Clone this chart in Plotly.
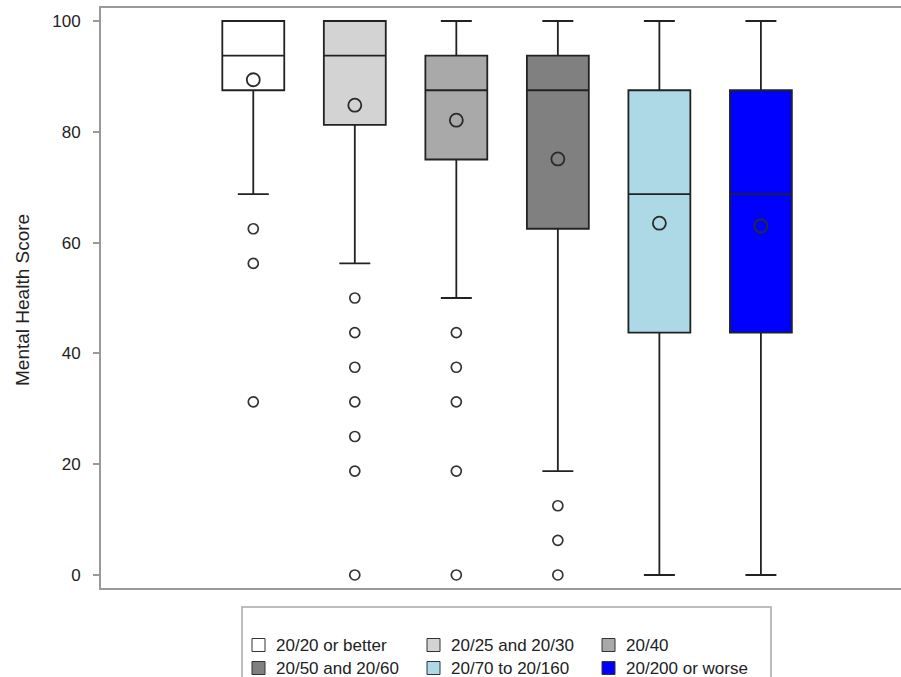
import plotly.graph_objects as go

categories = ["20/20 or better", "20/25 and 20/30", "20/40",
              "20/50 and 20/60", "20/70 to 20/160", "20/200 or worse"]
positions = [1, 2, 3, 4, 5, 6]
q1 = [87.5, 81.25, 75.0, 62.5, 43.75, 43.75]
median = [93.75, 93.75, 87.5, 87.5, 68.75, 68.75]
q3 = [100.0, 100.0, 93.75, 93.75, 87.5, 87.5]
lower_whisker = [68.75, 56.25, 50.0, 18.75, 0.0, 0.0]
upper_whisker = [100.0, 100.0, 100.0, 100.0, 100.0, 100.0]
means = [89.4, 84.8, 82.1, 75.1, 63.5, 63.0]
outliers = [
    [62.5, 56.25, 31.25],
    [50.0, 43.75, 37.5, 31.25, 25.0, 18.75, 0.0],
    [43.75, 37.5, 31.25, 18.75, 0.0],
    [12.5, 6.25, 0.0],
    [],
    [],
]
fill_colors = ["#ffffff", "#d3d3d3", "#a9a9a9", "#808080", "#add8e6", "#0000ff"]
y_ticks = [0, 20, 40, 60, 80, 100]

W, H = 901, 677
ML, MR, MT, MB = 101, 0, 8, 89
PW, PH = W - ML - MR, H - MT - MB

FONT = "Liberation Sans, Arial, sans-serif"
TXT = "#222222"
AX = "#9a9a9a"

fig = go.Figure()
for i, cat in enumerate(categories):
    fig.add_trace(go.Box(
        x=[positions[i]], q1=[q1[i]], median=[median[i]], q3=[q3[i]],
        lowerfence=[lower_whisker[i]], upperfence=[upper_whisker[i]],
        name=cat, width=0.61, whiskerwidth=0.5, boxpoints=False,
        fillcolor=fill_colors[i], line=dict(color="#222222", width=1.8),
        showlegend=False,
    ))

# means
fig.add_trace(go.Scatter(
    x=positions, y=means, mode="markers", showlegend=False,
    marker=dict(symbol="circle-open", size=13, color="#2a2a2a", line=dict(width=1.8)),
))
# outliers
ox, oy = [], []
for i, vals in enumerate(outliers):
    for v in vals:
        ox.append(positions[i])
        oy.append(v)
fig.add_trace(go.Scatter(
    x=ox, y=oy, mode="markers", showlegend=False,
    marker=dict(symbol="circle-open", size=10, color="#333333", line=dict(width=1.7)),
))

def px_x(p):  # screen pixel -> paper
    return (p - ML) / PW

def px_y(p):
    return (MT + PH - p) / PH

shapes = []
annotations = []
# legend border
shapes.append(dict(type="rect", xref="paper", yref="paper",
                   x0=px_x(242), x1=px_x(771), y0=px_y(700), y1=px_y(607),
                   line=dict(color="#a8a8a8", width=1.5), fillcolor="rgba(0,0,0,0)"))
col_sq = [252, 427, 602]
col_tx = [274, 449, 624]
row_y = [645, 668]
for i, cat in enumerate(categories):
    r, c = divmod(i, 3)
    cy = row_y[r]
    shapes.append(dict(type="rect", xref="paper", yref="paper",
                       x0=px_x(col_sq[c]), x1=px_x(col_sq[c] + 13),
                       y0=px_y(cy + 6.5), y1=px_y(cy - 6.5),
                       line=dict(color="#333333", width=1), fillcolor=fill_colors[i]))
    annotations.append(dict(xref="paper", yref="paper", x=px_x(col_tx[c]), y=px_y(cy),
                            text=cat, showarrow=False, xanchor="left", yanchor="middle",
                            font=dict(family=FONT, size=17, color=TXT)))

# y-axis title
annotations.append(dict(xref="paper", yref="paper", x=px_x(22), y=px_y(300),
                        text="Mental Health Score", showarrow=False, textangle=-90,
                        xanchor="center", yanchor="middle",
                        font=dict(family=FONT, size=19, color=TXT)))

fig.update_layout(
    width=W, height=H,
    margin=dict(l=ML, r=MR, t=MT, b=MB, pad=0),
    paper_bgcolor="white", plot_bgcolor="white",
    shapes=shapes, annotations=annotations,
    showlegend=False,
    xaxis=dict(range=[-0.5, 7.38], showticklabels=False, ticks="", showgrid=False,
               zeroline=False, showline=True, linecolor=AX, linewidth=2, mirror=True),
    yaxis=dict(range=[-2.35, 102.35], tickvals=y_ticks, ticks="outside", ticklen=6,
               tickcolor=AX, tickwidth=1.5, showgrid=False, zeroline=False,
               showline=True, linecolor=AX, linewidth=2, ticklabelstandoff=9,
               tickfont=dict(family=FONT, size=17, color=TXT)),
)

fig.write_html(
    "out.html",
    config={"displayModeBar": False},
    post_script="document.body.style.margin='0px';document.body.style.overflow='hidden';",
)
